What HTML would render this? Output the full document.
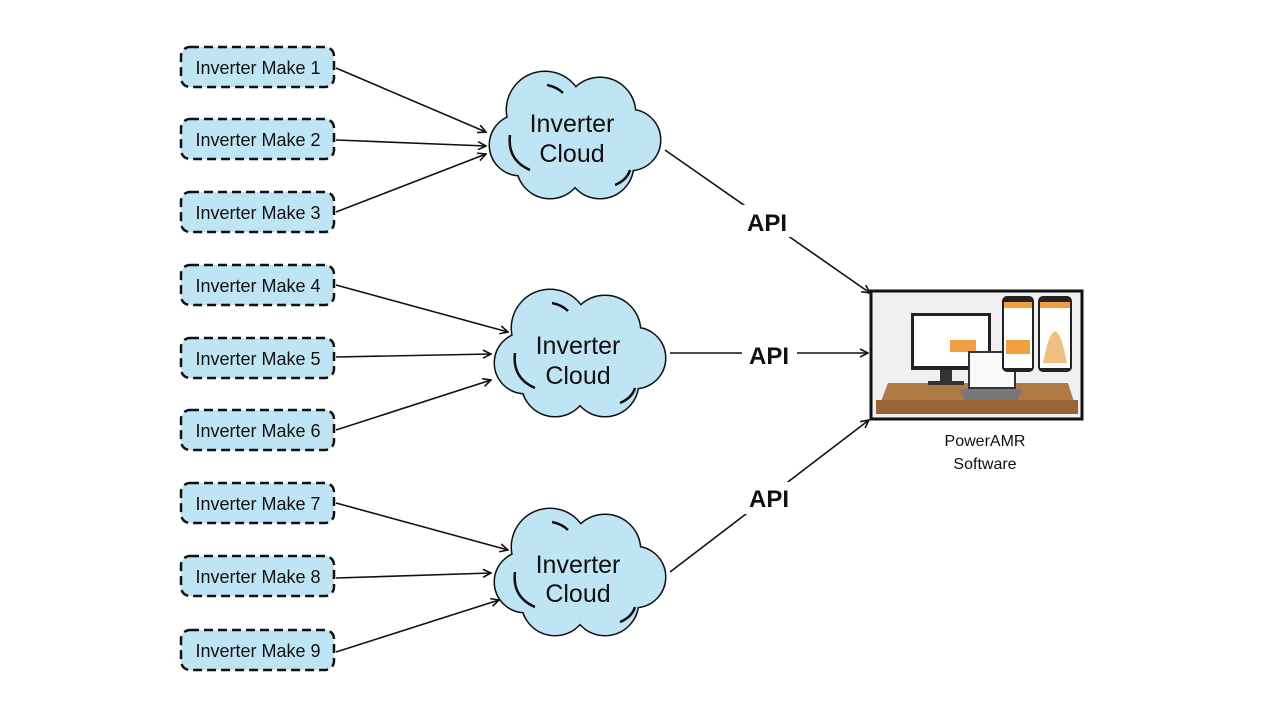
<!DOCTYPE html>
<html><head><meta charset="utf-8"><style>
html,body{margin:0;padding:0;background:#fff;}
svg{display:block;font-family:"Liberation Sans",sans-serif;}
</style></head><body>
<svg width="1280" height="720" viewBox="0 0 1280 720">
<defs>
<marker id="a" markerWidth="10" markerHeight="10" refX="9" refY="5" orient="auto" markerUnits="userSpaceOnUse">
<path d="M1,1 L9,5 L1,9" fill="none" stroke="#111" stroke-width="1.6"/></marker>
<g id="cloud">
<g fill="none" stroke="#111" stroke-width="3">
<circle cx="-30" cy="-25" r="38"/><circle cx="25" cy="-22" r="35"/><circle cx="55" cy="5" r="30"/>
<circle cx="-55" cy="10" r="30"/><circle cx="-25" cy="30" r="33"/><circle cx="25" cy="30" r="33"/><circle cx="0" cy="0" r="45"/>
</g>
<g fill="#bfe4f3">
<circle cx="-30" cy="-25" r="38"/><circle cx="25" cy="-22" r="35"/><circle cx="55" cy="5" r="30"/>
<circle cx="-55" cy="10" r="30"/><circle cx="-25" cy="30" r="33"/><circle cx="25" cy="30" r="33"/><circle cx="0" cy="0" r="45"/>
</g>
<path d="M-65,0 Q-68,25 -45,35" fill="none" stroke="#111" stroke-width="2.5"/>
<path d="M40,50 Q52,45 55,35" fill="none" stroke="#111" stroke-width="2.5"/>
<path d="M-28,-50 Q-18,-48 -12,-42" fill="none" stroke="#111" stroke-width="2.5"/>
</g>
</defs>
<g fill="#bfe4f3" stroke="#111" stroke-width="2.5" stroke-dasharray="9,5">
<rect x="181" y="47" width="153" height="40" rx="9"/>
<rect x="181" y="119" width="153" height="40" rx="9"/>
<rect x="181" y="192" width="153" height="40" rx="9"/>
<rect x="181" y="265" width="153" height="40" rx="9"/>
<rect x="181" y="338" width="153" height="40" rx="9"/>
<rect x="181" y="410" width="153" height="40" rx="9"/>
<rect x="181" y="483" width="153" height="40" rx="9"/>
<rect x="181" y="556" width="153" height="40" rx="9"/>
<rect x="181" y="630" width="153" height="40" rx="9"/>
</g>
<g font-size="18" fill="#111" text-anchor="middle">
<text x="258" y="74">Inverter Make 1</text>
<text x="258" y="146">Inverter Make 2</text>
<text x="258" y="219">Inverter Make 3</text>
<text x="258" y="292">Inverter Make 4</text>
<text x="258" y="365">Inverter Make 5</text>
<text x="258" y="437">Inverter Make 6</text>
<text x="258" y="510">Inverter Make 7</text>
<text x="258" y="583">Inverter Make 8</text>
<text x="258" y="657">Inverter Make 9</text>
</g>
<g stroke="#111" stroke-width="1.6" marker-end="url(#a)">
<line x1="336" y1="68" x2="486" y2="132"/>
<line x1="336" y1="140" x2="486" y2="146"/>
<line x1="336" y1="212" x2="486" y2="154"/>
<line x1="336" y1="285" x2="508" y2="332"/>
<line x1="336" y1="357" x2="491" y2="354"/>
<line x1="336" y1="430" x2="491" y2="380"/>
<line x1="336" y1="503" x2="508" y2="550"/>
<line x1="336" y1="578" x2="491" y2="573"/>
<line x1="336" y1="652" x2="499" y2="600"/>
<line x1="665" y1="150" x2="870" y2="293"/>
<line x1="670" y1="353" x2="868" y2="353"/>
<line x1="670" y1="572" x2="869" y2="420"/>
</g>
<use href="#cloud" x="575" y="135"/>
<use href="#cloud" x="580" y="353"/>
<use href="#cloud" x="580" y="572"/>
<g font-size="25" fill="#111" text-anchor="middle">
<text x="572" y="132">Inverter</text><text x="572" y="162">Cloud</text>
<text x="578" y="354">Inverter</text><text x="578" y="384">Cloud</text>
<text x="578" y="573">Inverter</text><text x="578" y="602">Cloud</text>
</g>
<g font-size="24" font-weight="bold" fill="#111" text-anchor="middle">
<rect x="740" y="205" width="55" height="32" fill="#fff"/><text x="767" y="231">API</text>
<rect x="742" y="340" width="55" height="32" fill="#fff"/><text x="769" y="364">API</text>
<rect x="742" y="482" width="55" height="32" fill="#fff"/><text x="769" y="507">API</text>
</g>
<rect x="871" y="291" width="211" height="128" fill="#f0f0f0" stroke="#111" stroke-width="3"/>
<polygon points="888,383 1068,383 1078,414 876,414" fill="#b07a45"/>
<rect x="876" y="400" width="202" height="14" fill="#9a6535"/>
<rect x="911" y="313" width="80" height="57" fill="#222"/>
<rect x="914" y="316" width="74" height="50" fill="#fff"/>
<rect x="940" y="370" width="12" height="12" fill="#333"/>
<rect x="928" y="381" width="36" height="4" fill="#333"/>
<rect x="950" y="340" width="26" height="12" fill="#f0a040"/>
<rect x="968" y="351" width="48" height="38" fill="#333"/>
<rect x="970" y="353" width="44" height="34" fill="#fafafa"/>
<polygon points="960,389 1022,389 1018,400 964,400" fill="#777"/>
<rect x="1002" y="296" width="32" height="76" rx="5" fill="#222"/>
<rect x="1004" y="302" width="28" height="66" fill="#fff"/>
<rect x="1004" y="302" width="28" height="6" fill="#f0a040"/>
<rect x="1006" y="340" width="24" height="14" fill="#f0a040"/>
<rect x="1038" y="296" width="34" height="76" rx="5" fill="#222"/>
<rect x="1040" y="302" width="30" height="66" fill="#fff"/>
<rect x="1040" y="302" width="30" height="6" fill="#f0a040"/>
<path d="M1043,363 Q1055,300 1067,363 Z" fill="#f0c080"/>
<g font-size="16" fill="#111" text-anchor="middle">
<text x="985" y="446">PowerAMR</text><text x="985" y="469">Software</text>
</g>
</svg>
</body></html>
